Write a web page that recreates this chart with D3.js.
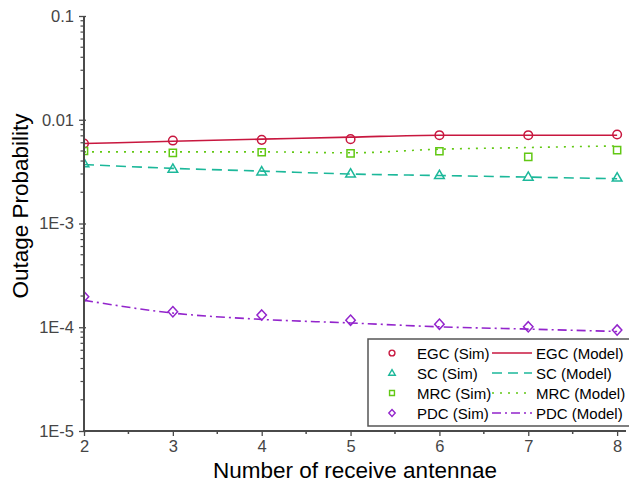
<!DOCTYPE html>
<html>
<head>
<meta charset="utf-8">
<script src="https://cdn.jsdelivr.net/npm/d3@7"></script>
<style>
  body { margin: 0; background: #fff; }
  text { font-family: "Liberation Sans", Arial, sans-serif; }
</style>
</head>
<body>
<div id="chart"></div>
<script>
const WIDTH = 629;
const HEIGHT = 487;
const PLOT = {left: 84, right: 626, top: 16, bottom: 431};

// data
const antennas = [2, 3, 4, 5, 6, 7, 8];
const egcSim   = [0.0059, 0.0063, 0.0064, 0.0065, 0.0071, 0.0071, 0.0072];
const egcModel = [0.0059, 0.0062, 0.0065, 0.0068, 0.0071, 0.0071, 0.0071];
const scSim    = [0.0038, 0.00335, 0.00316, 0.00302, 0.00292, 0.00281, 0.00276];
const scModel  = [0.0037, 0.0034, 0.0032, 0.0030, 0.0029, 0.0028, 0.0027];
const mrcSim   = [0.0050, 0.0048, 0.00486, 0.00475, 0.00497, 0.00438, 0.0051];
const mrcModel = [0.0049, 0.0049, 0.0049, 0.0048, 0.0052, 0.0054, 0.0056];
const pdcSim   = [1.97e-4, 1.41e-4, 1.31e-4, 1.17e-4, 1.07e-4, 1.01e-4, 9.4e-5];
const pdcModel = [1.82e-4, 1.37e-4, 1.19e-4, 1.10e-4, 1.01e-4, 9.6e-5, 9.1e-5];

const yTickValues = [1e-5, 1e-4, 1e-3, 0.01, 0.1];
const yTickLabels = ['1E-5', '1E-4', '1E-3', '0.01', '0.1'];
const xTickValues = [2, 3, 4, 5, 6, 7, 8];

const series = [
    {name: 'EGC', sim: egcSim, model: egcModel, color: '#c8173f', marker: 'circle', dash: null},
    {name: 'SC', sim: scSim, model: scModel, color: '#1cb89a', marker: 'triangle', dash: '10,6'},
    {name: 'MRC', sim: mrcSim, model: mrcModel, color: '#62c814', marker: 'square', dash: '2,6'},
    {name: 'PDC', sim: pdcSim, model: pdcModel, color: '#9325cc', marker: 'diamond', dash: '9,4,2,4'}
];

const svg = d3.select('#chart').append('svg')
    .attr('width', WIDTH)
    .attr('height', HEIGHT);

const x = d3.scaleLinear().domain([2, 8.1]).range([PLOT.left, PLOT.right]);
const y = d3.scaleLog().domain([1e-5, 0.1]).range([PLOT.bottom, PLOT.top]);

svg.append('clipPath').attr('id', 'plotclip')
  .append('rect')
    .attr('x', PLOT.left).attr('y', PLOT.top - 10)
    .attr('width', PLOT.right - PLOT.left).attr('height', PLOT.bottom - PLOT.top + 10);

// marker shapes
function markerPath(kind, s) {
    if (kind === 'circle') return d3.symbol(d3.symbolCircle, Math.PI * s * s)();
    if (kind === 'square') return `M${-s},${-s}H${s}V${s}H${-s}Z`;
    if (kind === 'triangle') return `M0,${-s * 1.15}L${s * 1.1},${s * 0.75}L${-s * 1.1},${s * 0.75}Z`;
    return `M0,${-s * 1.2}L${s * 1.1},0L0,${s * 1.2}L${-s * 1.1},0Z`;
}
const markerSize = {circle: 4.3, square: 3.6, triangle: 4.4, diamond: 4.3};

const line = d3.line()
    .x((d, i) => x(antennas[i]))
    .y(d => y(d))
    .curve(d3.curveMonotoneX);

const plot = svg.append('g').attr('clip-path', 'url(#plotclip)');

series.forEach(s => {
    plot.append('path')
        .attr('d', line(s.model))
        .attr('fill', 'none')
        .attr('stroke', s.color)
        .attr('stroke-width', 1.6)
        .attr('stroke-dasharray', s.dash);
    plot.selectAll(null)
        .data(s.sim)
        .enter().append('path')
        .attr('transform', (d, i) => `translate(${x(antennas[i])},${y(d)})`)
        .attr('d', markerPath(s.marker, markerSize[s.marker]))
        .attr('fill', 'none')
        .attr('stroke', s.color)
        .attr('stroke-width', 1.5);
});

// axes
const axisColor = '#4a4a4a';
const yAxis = svg.append('g').attr('transform', `translate(${PLOT.left},0)`)
    .call(d3.axisLeft(y).tickValues(yTickValues).tickFormat((d, i) => yTickLabels[i]).tickSize(5).tickPadding(5));
const xAxis = svg.append('g').attr('transform', `translate(0,${PLOT.bottom})`)
    .call(d3.axisBottom(x).tickValues(xTickValues).tickFormat(d3.format('d')).tickSize(5).tickPadding(4));

[yAxis, xAxis].forEach(g => {
    g.select('.domain').remove();
    g.selectAll('.tick line').attr('stroke', axisColor).attr('stroke-width', 1.3);
    g.selectAll('.tick text').attr('fill', '#454545').style('font-size', '16.5px');
});
yAxis.selectAll('.tick line').attr('x2', -5).attr('x1', 2);

// minor ticks
const minorY = [];
for (let e = -5; e < -1; e++) for (let m = 2; m <= 9; m++) minorY.push(m * Math.pow(10, e));
svg.append('g').selectAll('line').data(minorY).enter().append('line')
    .attr('x1', PLOT.left - 3.5).attr('x2', PLOT.left)
    .attr('y1', d => y(d)).attr('y2', d => y(d))
    .attr('stroke', axisColor).attr('stroke-width', 1.2);
svg.append('g').selectAll('line').data([2.5, 3.5, 4.5, 5.5, 6.5, 7.5]).enter().append('line')
    .attr('x1', d => x(d)).attr('x2', d => x(d))
    .attr('y1', PLOT.bottom).attr('y2', PLOT.bottom + 3)
    .attr('stroke', axisColor).attr('stroke-width', 1.5);

svg.append('line')
    .attr('x1', PLOT.left).attr('x2', PLOT.left)
    .attr('y1', PLOT.top).attr('y2', PLOT.bottom + 1)
    .attr('stroke', axisColor).attr('stroke-width', 2);
svg.append('line')
    .attr('x1', PLOT.left - 1).attr('x2', PLOT.right)
    .attr('y1', PLOT.bottom).attr('y2', PLOT.bottom)
    .attr('stroke', axisColor).attr('stroke-width', 2);

// axis titles
svg.append('text')
    .attr('x', (PLOT.left + PLOT.right) / 2).attr('y', 478)
    .attr('text-anchor', 'middle')
    .style('font-size', '22.5px')
    .text('Number of receive antennae');
svg.append('text')
    .attr('transform', 'translate(28,206) rotate(-90)')
    .attr('text-anchor', 'middle')
    .style('font-size', '22.5px')
    .text('Outage Probability');

// legend
const legend = svg.append('g');
legend.append('rect')
    .attr('x', 368).attr('y', 339)
    .attr('width', 266).attr('height', 87)
    .attr('fill', '#fff')
    .attr('stroke', '#555').attr('stroke-width', 1.5);
series.forEach((s, i) => {
    const ly = 353 + i * 20;
    legend.append('path')
        .attr('transform', `translate(392,${ly})`)
        .attr('d', markerPath(s.marker, markerSize[s.marker] * 0.68))
        .attr('fill', 'none').attr('stroke', s.color).attr('stroke-width', 1.4);
    legend.append('text')
        .attr('x', 417).attr('y', ly + 5.5)
        .style('font-size', '15px')
        .text(s.name + ' (Sim)');
    legend.append('line')
        .attr('x1', 492).attr('x2', 532)
        .attr('y1', ly).attr('y2', ly)
        .attr('stroke', s.color).attr('stroke-width', 1.6)
        .attr('stroke-dasharray', s.dash);
    legend.append('text')
        .attr('x', 536).attr('y', ly + 5.5)
        .style('font-size', '15px')
        .text(s.name + ' (Model)');
});
</script>
</body>
</html>
